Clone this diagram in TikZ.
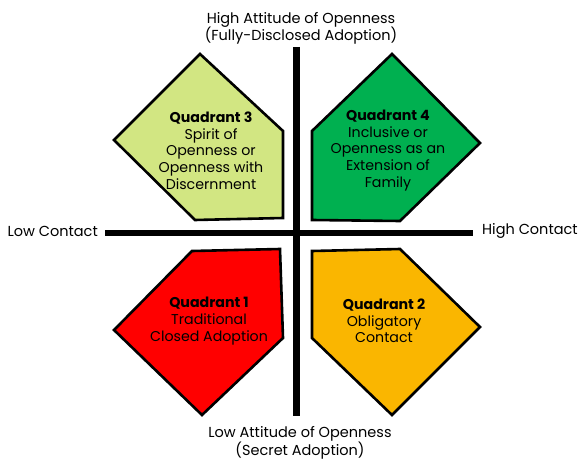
\documentclass[tikz,border=0pt]{standalone}
\usepackage{fontspec}
\setmainfont{Poppins}
\definecolor{qlight}{RGB}{210,230,130}
\definecolor{qgreen}{RGB}{0,176,80}
\definecolor{qred}{RGB}{255,0,0}
\definecolor{qorange}{RGB}{250,182,0}
\begin{document}
\begin{tikzpicture}[x=1pt,y=-1pt,
  quad/.style={draw=black,line width=2.6pt,line join=miter},
  axis/.style={draw=black,line width=6.5pt},
  lbl/.style={font=\fontsize{14.5}{17.5}\selectfont,align=center,inner sep=0pt,text=black},
  qtext/.style={font=\fontsize{14.2}{16.7}\selectfont,align=center,inner sep=0pt,text=black}]
\useasboundingbox (0,0) rectangle (587,460);
% quadrants
\filldraw[quad,fill=qlight] (200,54) -- (283,131) -- (283,218) -- (195,220) -- (114,140) -- cycle;
\filldraw[quad,fill=qgreen] (392,54) -- (480,143) -- (400,221) -- (312,220) -- (312,131) -- cycle;
\filldraw[quad,fill=qred] (192,251) -- (280,249) -- (283,338) -- (202,415) -- (114,330) -- cycle;
\filldraw[quad,fill=qorange] (312,251) -- (400,249) -- (480,327) -- (392,415) -- (312,338) -- cycle;
% axes
\coordinate (L) at (105,233);
\coordinate (R) at (473,233);
\coordinate (T) at (296.5,47);
\coordinate (B) at (296.5,416);
\draw[axis] (L) -- (R);
\draw[axis] (T) -- (B);
% labels
\node[lbl] (top) at (301,28.5) {High Attitude of Openness\\(Fully-Disclosed Adoption)};
\node[lbl] (bot) at (300,443) {Low Attitude of Openness\\(Secret Adoption)};
\node[lbl,anchor=east] (lc) at (98,231) {Low Contact};
\node[lbl,anchor=west] (hc) at (482,231) {High Contact};
% quadrant texts
\node[qtext] (q3) at (211,150.5) {\textbf{Quadrant 3}\\Spirit of\\Openness or\\Openness with\\Discernment};
\node[qtext] (q4) at (388,150.5) {\textbf{Quadrant 4}\\Inclusive or\\Openness as an\\Extension of\\Family};
\node[qtext] (q1) at (209,321) {\textbf{Quadrant 1}\\Traditional\\Closed Adoption};
\node[qtext] (q2) at (384,321) {\textbf{Quadrant 2}\\Obligatory\\Contact};
\end{tikzpicture}
\end{document}
